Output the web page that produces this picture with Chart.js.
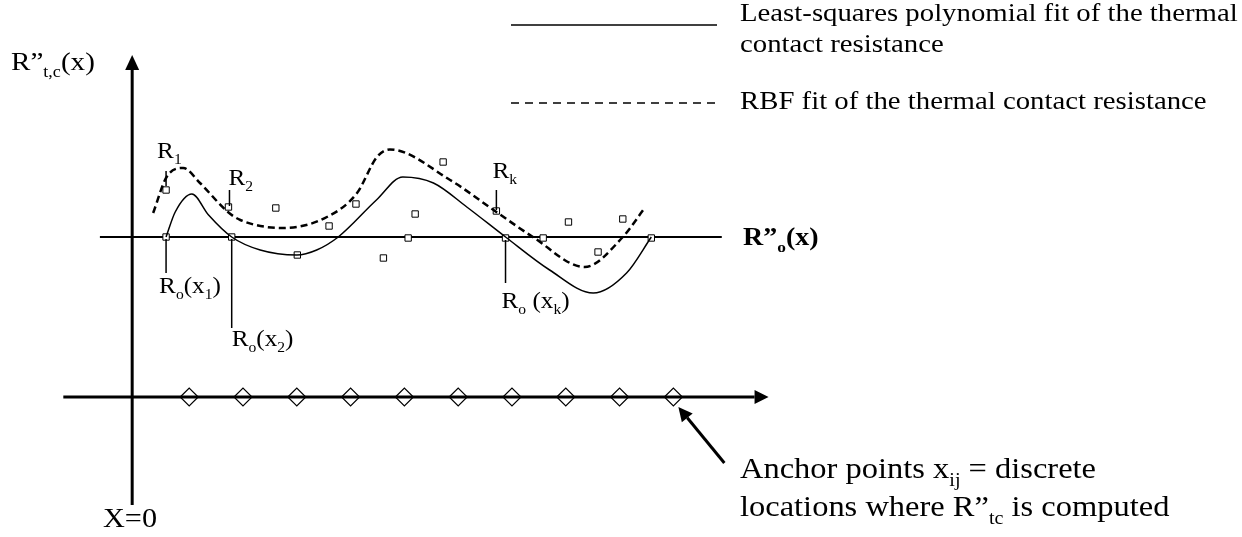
<!DOCTYPE html>
<html>
<head>
<meta charset="utf-8">
<script src="https://cdn.jsdelivr.net/npm/chart.js@4.4.1/dist/chart.umd.min.js"></script>
<style>
  html, body { margin: 0; padding: 0; background: #fff; }
  #wrap { width: 1242px; height: 537px; position: relative; }
</style>
</head>
<body>
<div id="wrap"><canvas id="c"></canvas></div>
<script>
// x: in anchor spacings, 0 = vertical axis; y: 0 = the R"o(x) line
var lsqFit = [[0.63,0],[0.80,2.5],[1.11,4.3],[1.42,2.2],[1.85,0],[2.38,-1.3],[3.06,-1.8],[3.43,-1.3],[3.83,0],
              [4.54,3.7],[5.03,6.0],[5.60,5.4],[6.22,3.0],[6.94,0],[7.76,-3.3],[8.57,-5.6],[9.19,-3.6],[9.65,0]];
var rbfFit = [[0.39,2.4],[0.64,6.0],[0.95,6.9],[1.26,5.4],[1.78,2.5],[2.01,1.7],[2.80,0.9],[3.62,2.0],[4.18,4.4],
              [4.55,8.0],[4.79,8.75],[5.91,5.7],[6.77,2.5],[7.45,0],[8.41,-3.0],[9.12,0],[9.50,2.7]];
var measured = [[0.63,4.7],[1.79,3.0],[2.67,2.9],[3.07,-1.8],[3.66,1.1],[4.16,3.3],[4.67,-2.1],[5.26,2.3],
                [5.78,7.5],[6.77,2.6],[8.11,1.5],[8.66,-1.5],[9.12,1.8]];
var baseline = [[0.63,0],[1.85,0],[5.13,-0.1],[6.94,-0.1],[7.64,-0.1],[9.65,-0.1]];
var anchors = [1.06,2.06,3.06,4.06,5.06,6.06,7.06,8.06,9.06,10.06];
var anchorLevel = -16;

var SX = 1.12; // text in the picture is a bit stretched sideways
var FONT = '"Liberation Serif", "Times New Roman", serif';

function pts(arr) { return arr.map(function (p) { return { x: p[0], y: p[1] }; }); }

function drawRich(ctx, x, y, parts, size, weight) {
  ctx.save();
  ctx.translate(x, y);
  ctx.scale(SX, 1);
  ctx.fillStyle = '#000';
  ctx.textBaseline = 'alphabetic';
  var cx = 0;
  parts.forEach(function (p) {
    var sub = p[1] === 'sub';
    var fs = sub ? size * 0.62 : size;
    ctx.font = (weight || 'normal') + ' ' + fs + 'px ' + FONT;
    ctx.fillText(p[0], cx, sub ? size * 0.28 : 0);
    cx += ctx.measureText(p[0]).width;
  });
  ctx.restore();
}

function line(ctx, x1, y1, x2, y2, w, dash) {
  ctx.save();
  ctx.strokeStyle = '#000';
  ctx.lineWidth = w;
  ctx.setLineDash(dash || []);
  ctx.beginPath();
  ctx.moveTo(x1, y1);
  ctx.lineTo(x2, y2);
  ctx.stroke();
  ctx.restore();
}

function arrow(ctx, x1, y1, x2, y2, w, len, half) {
  var a = Math.atan2(y2 - y1, x2 - x1);
  var bx = x2 - Math.cos(a) * len, by = y2 - Math.sin(a) * len;
  line(ctx, x1, y1, bx, by, w);
  ctx.save();
  ctx.fillStyle = '#000';
  ctx.beginPath();
  ctx.moveTo(x2, y2);
  ctx.lineTo(bx + Math.sin(a) * half, by - Math.cos(a) * half);
  ctx.lineTo(bx - Math.sin(a) * half, by + Math.cos(a) * half);
  ctx.closePath();
  ctx.fill();
  ctx.restore();
}

var sketch = {
  id: 'sketch',
  beforeDatasetsDraw: function (chart) {
    var ctx = chart.ctx, xs = chart.scales.x, ys = chart.scales.y;
    // R"o(x) reference line
    line(ctx, xs.getPixelForValue(-0.6), ys.getPixelForValue(0), xs.getPixelForValue(10.96), ys.getPixelForValue(0), 2);
    // vertical axis
    arrow(ctx, xs.getPixelForValue(0), ys.getPixelForValue(-26.8), xs.getPixelForValue(0), ys.getPixelForValue(18.2), 3, 15, 7);
    // anchor axis
    arrow(ctx, xs.getPixelForValue(-1.28), ys.getPixelForValue(anchorLevel), xs.getPixelForValue(11.83), ys.getPixelForValue(anchorLevel), 3, 14, 7);
  },
  afterDatasetsDraw: function (chart) {
    var ctx = chart.ctx, xs = chart.scales.x, ys = chart.scales.y;
    function px(p) { return [xs.getPixelForValue(p[0]), ys.getPixelForValue(p[1])]; }

    // point labels with leader lines: [point, parts, dx, dy, leader from, leader to, leader dx]
    var tags = [
      [measured[0], [['R',''],['1','sub']], -9, -32, -4, -19, 0],
      [measured[1], [['R',''],['2','sub']], 0, -22, -1, -17, 1],
      [measured[9], [['R',''],['k','sub']], -4, -33, -1, -21, 0],
      [baseline[0], [['R',''],['o','sub'],['(x',''],['1','sub'],[')','']], -7, 56, 2, 36, 0],
      [baseline[1], [['R',''],['o','sub'],['(x',''],['2','sub'],[')','']], 0, 109, 2, 91, 0],
      [baseline[3], [['R',''],['o','sub'],[' (x',''],['k','sub'],[')','']], -4, 70, 2, 45, 0]
    ];
    tags.forEach(function (t) {
      var p = px(t[0]);
      line(ctx, p[0] + t[6], p[1] + t[4], p[0] + t[6], p[1] + t[5], 1.5);
      drawRich(ctx, p[0] + t[2], p[1] + t[3], t[1], 22.5);
    });

    // axis titles
    drawRich(ctx, 11, 70, [['R\u201D',''],['t,c','sub'],['(x)','']], 26);
    drawRich(ctx, 743, 245, [['R\u201D',''],['o','sub'],['(x)','']], 25, 'bold');
    drawRich(ctx, 103, 527, [['X=0','']], 27);

    // legend
    line(ctx, 511, 25, 717, 25, 1.5);
    line(ctx, 511, 103, 717, 103, 1.5, [8, 6]);
    drawRich(ctx, 740, 21, [['Least-squares polynomial fit of the thermal','']], 25.7);
    drawRich(ctx, 740, 52, [['contact resistance','']], 25.7);
    drawRich(ctx, 740, 109, [['RBF fit of the thermal contact resistance','']], 25.7);

    // anchor note
    var a = px([anchors[anchors.length - 1], anchorLevel]);
    arrow(ctx, a[0] + 51, a[1] + 66, a[0] + 5, a[1] + 10, 3, 14, 7);
    drawRich(ctx, 740, 478, [['Anchor points x',''],['ij','sub'],[' = discrete','']], 29);
    drawRich(ctx, 740, 516, [['locations where R\u201D',''],['tc','sub'],[' is computed','']], 29);
  }
};

new Chart(document.getElementById('c'), {
  type: 'scatter',
  data: {
    datasets: [
      {
        type: 'line', label: 'Least-squares polynomial fit', data: pts(lsqFit),
        borderColor: '#000', borderWidth: 1.5, pointRadius: 0, fill: false,
        cubicInterpolationMode: 'monotone'
      },
      {
        type: 'line', label: 'RBF fit', data: pts(rbfFit),
        borderColor: '#000', borderWidth: 2.5, borderDash: [7, 4], pointRadius: 0, fill: false,
        cubicInterpolationMode: 'monotone'
      },
      {
        label: 'R', data: pts(measured),
        pointStyle: 'rect', pointRadius: 4.5, backgroundColor: '#fff', borderColor: '#000', borderWidth: 1
      },
      {
        label: 'Ro', data: pts(baseline),
        pointStyle: 'rect', pointRadius: 4.5, backgroundColor: '#fff', borderColor: '#000', borderWidth: 1
      },
      {
        label: 'Anchor points', data: anchors.map(function (v) { return { x: v, y: anchorLevel }; }),
        pointStyle: 'rectRot', pointRadius: 9, backgroundColor: 'rgba(0,0,0,0)', borderColor: '#000', borderWidth: 1.2
      }
    ]
  },
  options: {
    responsive: true,
    maintainAspectRatio: false,
    animation: false,
    layout: { padding: 0, autoPadding: false },
    plugins: { legend: { display: false }, tooltip: { enabled: false } },
    scales: {
      x: { type: 'linear', min: -2.457, max: 20.63, display: false },
      y: { type: 'linear', min: -30, max: 23.7, display: false }
    }
  },
  plugins: [sketch]
});
</script>
</body>
</html>
